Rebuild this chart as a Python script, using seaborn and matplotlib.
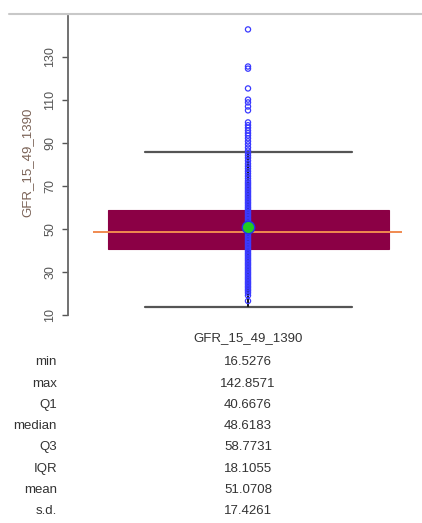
import numpy as np
import matplotlib
matplotlib.use("Agg")
import matplotlib.pyplot as plt
import seaborn as sns
from matplotlib.lines import Line2D

# values
var_name = "GFR_15_49_1390"
stat_names = ["min", "max", "Q1", "median", "Q3", "IQR", "mean", "s.d."]
stat_values = [16.5276, 142.8571, 40.6676, 48.6183, 58.7731, 18.1055, 51.0708, 17.4261]

upper_points = [142.86, 125.6, 124.6, 115.4, 110.2, 108.9, 107.0, 105.2, 99.6, 98.3,
                97.1, 95.8, 94.6, 93.5, 92.2, 90.8, 89.4, 87.9, 86.5, 85.3, 84.2,
                83.1, 81.8, 80.4, 79.2, 78.1, 76.9, 75.8, 74.6, 73.5]
dense_points = [72.4, 71.6, 70.9, 70.1, 69.3, 68.6, 67.8, 67.1, 66.3, 65.5, 64.8, 64.0,
                63.3, 62.5, 61.8, 61.0, 60.2, 59.5, 58.8, 58.0, 57.3, 56.5, 55.8, 55.0,
                54.3, 53.6, 52.8, 52.1, 51.3, 50.6, 49.9, 49.1, 48.4, 47.7, 46.9, 46.2,
                45.4, 44.7, 44.0, 43.2, 42.5, 41.8, 41.0, 40.3, 39.6, 38.8, 38.1, 37.4,
                36.6, 35.9, 35.2, 34.4, 33.7, 33.0, 32.2, 31.5, 30.8, 30.0, 29.3, 28.6,
                27.8, 27.1, 26.4, 25.6, 24.9, 24.2, 23.4, 22.7, 21.9, 21.2, 20.3, 19.1,
                16.53]
y_ticks = [10, 30, 50, 70, 90, 110, 130]

stats = dict(zip(stat_names, stat_values))
points = upper_points + dense_points
lo_fence = stats["Q1"] - 1.5 * stats["IQR"]
hi_fence = stats["Q3"] + 1.5 * stats["IQR"]

sns.set_style("white")
plt.rcParams["font.family"] = ["Liberation Sans", "DejaVu Sans"]

W, H = 422, 523
fig = plt.figure(figsize=(W / 100, H / 100), dpi=100)
# axes placed in pixel terms: x 68..422, y 16..315
ax = fig.add_axes([68 / W, (H - 315) / H, (W - 68) / W, (315 - 16) / H])

box_col = "#8b0045"
ax.bxp([dict(med=stats["median"], q1=stats["Q1"], q3=stats["Q3"],
             whislo=lo_fence, whishi=hi_fence, fliers=[])],
       positions=[0], widths=281, capwidths=207, patch_artist=True,
       showfliers=False,
       boxprops=dict(facecolor=box_col, edgecolor=box_col, linewidth=0.8),
       whiskerprops=dict(color="#222222", linewidth=1.2),
       capprops=dict(color="#555555", linewidth=1.6),
       medianprops=dict(linewidth=0))
ax.vlines(0, lo_fence, hi_fence, color="#111111", linewidth=1.2, zorder=3)
ax.hlines(stats["median"], -155, 154, color="#f08a50", linewidth=1.4, zorder=4)

sns.scatterplot(x=np.zeros(len(points)), y=points, ax=ax, marker="o", s=14,
                legend=False, zorder=5)
coll = ax.collections[-1]
coll.set_facecolor("none")
coll.set_edgecolor("#3a3aff")
coll.set_linewidth(0.9)

sns.scatterplot(x=[0], y=[stats["mean"]], ax=ax, s=80, color="#22cc22",
                edgecolor="#2233ee", linewidth=1.0, legend=False, zorder=6)

ax.set_xlim(-180, 174)
ax.set_ylim(10, 149.1)
ax.set_yticks(y_ticks)
ax.set_yticklabels([str(t) for t in y_ticks], rotation=90, va="center",
                   color="#555555", fontsize=9)
ax.tick_params(axis="y", direction="out", length=4.5, width=1, color="#555555", pad=4,
               left=True)
ax.set_xticks([])
ax.set_xlabel("")
ax.set_ylabel("")
for s in ["top", "right", "bottom"]:
    ax.spines[s].set_visible(False)
ax.spines["left"].set_color("#666666")
ax.spines["left"].set_linewidth(1.3)

fig.text(27 / W, 1 - 162 / H, var_name, rotation=90, ha="center", va="center",
         color="#7a6256", fontsize=9.5)

# top rule
fig.add_artist(Line2D([9 / W, 1], [1 - 14 / H, 1 - 14 / H], color="#c8c8c8", linewidth=1.5))

# summary table
fig.text(248 / W, 1 - 338 / H, var_name, ha="center", va="center", color="#333333", fontsize=9.5)
row_y = [362, 384, 405, 426, 447, 469, 490, 511]
for name, val, yy in zip(stat_names, stat_values, row_y):
    fig.text(57 / W, 1 - yy / H, name, ha="right", va="center", color="#333333", fontsize=9.5)
    fig.text(248 / W, 1 - yy / H, f"{val:.4f}", ha="center", va="center", color="#333333",
             fontsize=9.5)

fig.savefig("out.png", dpi=100)
